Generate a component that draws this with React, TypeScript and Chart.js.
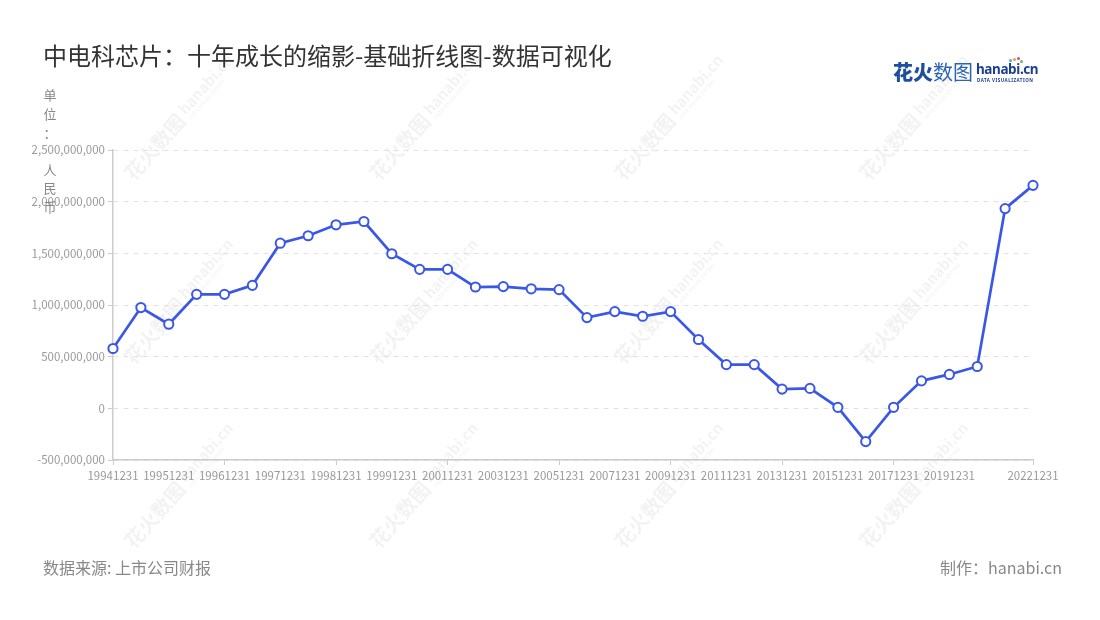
import React, { useEffect, useRef } from 'react';
import { Chart, registerables } from 'chart.js';

Chart.register(...registerables);

const FONT = "'Noto Sans CJK SC', 'Noto Sans', sans-serif";

const titleText = '中电科芯片：十年成长的缩影-基础折线图-数据可视化';
const unitChars = ['单', '位', '：', '人', '民', '币'];
const sourceText = '数据来源: 上市公司财报';
const makerText = '制作：hanabi.cn';

const dates = [
  '19941231', '19950630', '19951231', '19960630', '19961231', '19970630',
  '19971231', '19980630', '19981231', '19990630', '19991231', '20001231',
  '20011231', '20021231', '20031231', '20041231', '20051231', '20061231',
  '20071231', '20081231', '20091231', '20101231', '20111231', '20121231',
  '20131231', '20141231', '20151231', '20161231', '20171231', '20181231',
  '20191231', '20201231', '20211231', '20221231',
];

const values = [
  579000000, 975000000, 814000000, 1103000000, 1103000000, 1190000000,
  1598000000, 1670000000, 1776000000, 1808000000, 1496000000, 1345000000,
  1345000000, 1174000000, 1178000000, 1157000000, 1149000000, 878000000,
  936000000, 891000000, 936000000, 666000000, 423000000, 423000000,
  186000000, 193000000, 10000000, -322000000, 10000000, 266000000,
  328000000, 405000000, 1933000000, 2158000000,
];

const shownTickLabels = [
  '19941231', '19951231', '19961231', '19971231', '19981231', '19991231',
  '20011231', '20031231', '20051231', '20071231', '20091231', '20111231',
  '20131231', '20151231', '20171231', '20191231', '20221231',
];

const yMin = -500000000;
const yMax = 2500000000;
const yStep = 500000000;

const LINE_COLOR = '#3a57e8';

const watermarkPlugin = {
  id: 'watermark',
  beforeDraw(chart: any) {
    const ctx = chart.ctx;
    ctx.save();
    const xs = [134, 379, 624, 869];
    const ys = [182, 366, 550];
    for (const x of xs) {
      for (const y of ys) {
        ctx.save();
        ctx.translate(x, y);
        ctx.rotate(-0.85);
        ctx.fillStyle = 'rgba(0,0,0,0.05)';
        ctx.textBaseline = 'alphabetic';
        ctx.font = `bold 20px ${FONT}`;
        ctx.fillText('花火数图', 0, 0);
        ctx.font = `bold 15px ${FONT}`;
        ctx.fillText('hanabi.cn', 84, -5);
        ctx.font = `bold 5px ${FONT}`;
        ctx.fillText('DATA VISUALIZATION', 85, 2);
        ctx.restore();
      }
    }
    ctx.restore();
  },
};

export default function App() {
  const canvasRef = useRef<HTMLCanvasElement | null>(null);

  useEffect(() => {
    if (!canvasRef.current) return;
    const shown = new Set(shownTickLabels);
    const chart = new Chart(canvasRef.current, {
      type: 'line',
      data: {
        labels: dates,
        datasets: [
          {
            data: values,
            borderColor: LINE_COLOR,
            borderWidth: 2.7,
            backgroundColor: '#ffffff',
            pointBackgroundColor: '#ffffff',
            pointBorderColor: LINE_COLOR,
            pointBorderWidth: 2,
            pointRadius: 4.6,
            tension: 0,
            fill: false,
          },
        ],
      },
      options: {
        responsive: false,
        animation: false,
        layout: { padding: { left: 0, right: 67, top: 150, bottom: 120 } },
        plugins: {
          legend: { display: false },
          tooltip: { enabled: false },
        },
        scales: {
          x: {
            type: 'category',
            offset: false,
            afterFit: (s: any) => {
              s.height = 40;
            },
            grid: {
              drawOnChartArea: false,
              drawTicks: true,
              tickLength: 5,
              color: '#cccccc',
              tickColor: (c: any) =>
                shown.has(dates[c.index]) ? '#cccccc' : 'rgba(0,0,0,0)',
            },
            border: { display: true, color: '#cccccc', width: 1.5 },
            ticks: {
              autoSkip: false,
              maxRotation: 0,
              minRotation: 0,
              padding: 4,
              color: '#999999',
              font: { family: FONT, size: 11.5 },
              callback: (_v: any, i: number) =>
                shown.has(dates[i]) ? dates[i] : null,
            },
          },
          y: {
            min: yMin,
            max: yMax,
            afterFit: (s: any) => {
              s.width = 113;
            },
            grid: {
              color: '#e2e2e2',
              tickColor: '#cccccc',
              tickLength: 5,
              lineWidth: 1,
            },
            border: { display: true, color: '#cccccc', width: 1.5, dash: [5, 5] },
            ticks: {
              stepSize: yStep,
              padding: 3,
              color: '#999999',
              font: { family: FONT, size: 11.5 },
              callback: (v: any) => Number(v).toLocaleString('en-US'),
            },
          },
        },
      },
      plugins: [watermarkPlugin],
    } as any);
    return () => chart.destroy();
  }, []);

  const abs = (extra: React.CSSProperties): React.CSSProperties => ({
    position: 'absolute',
    whiteSpace: 'nowrap',
    fontFamily: FONT,
    ...extra,
  });

  return (
    <div
      style={{
        position: 'fixed',
        left: 0,
        top: 0,
        width: 1100,
        height: 620,
        background: '#ffffff',
        overflow: 'hidden',
        fontFamily: FONT,
      }}
    >
      <canvas
        ref={canvasRef}
        width={1100}
        height={620}
        style={{ position: 'absolute', left: 0, top: 0, width: 1100, height: 620 }}
      />
      <div style={abs({ left: 43, top: 41, fontSize: 24, lineHeight: '28px', color: '#333333' })}>
        {titleText}
      </div>
      {unitChars.map((ch, i) => {
        const centers = [95, 114, 133, 170, 188, 207];
        return (
          <div
            key={i}
            style={abs({
              left: 42,
              width: 16,
              textAlign: 'center',
              top: centers[i] - 8,
              fontSize: 13,
              lineHeight: '16px',
              color: '#888888',
            })}
          >
            {ch}
          </div>
        );
      })}
      <div style={abs({ left: 893, top: 59, height: 26, display: 'flex', alignItems: 'center' })}>
        <span style={{ fontSize: 20, fontWeight: 900, color: '#1d4f9e', lineHeight: '24px' }}>花火</span>
        <span style={{ fontSize: 20, fontWeight: 400, color: '#2c63b5', lineHeight: '24px' }}>数图</span>
        <span style={{ display: 'inline-block', marginLeft: 3, position: 'relative', width: 62, height: 24 }}>
          <span
            style={{
              position: 'absolute',
              left: 0,
              top: 1,
              fontFamily: "'Noto Sans', sans-serif",
              fontSize: 13.5,
              fontWeight: 700,
              color: '#1d3f8f',
              lineHeight: '16px',
              letterSpacing: -0.4,
            }}
          >
            hanabi.cn
          </span>
          <span
            style={{
              position: 'absolute',
              left: 1,
              top: 17,
              fontFamily: "'Noto Sans', sans-serif",
              fontSize: 4.5,
              fontWeight: 700,
              color: '#1d3f8f',
              lineHeight: '6px',
              letterSpacing: 0.5,
            }}
          >
            DATA VISUALIZATION
          </span>
          <span style={{ position: 'absolute', left: 37, top: -2, width: 3, height: 3, borderRadius: 2, background: '#f0a030' }} />
          <span style={{ position: 'absolute', left: 41, top: -3, width: 3, height: 3, borderRadius: 2, background: '#e04a7a' }} />
          <span style={{ position: 'absolute', left: 33, top: -1, width: 3, height: 3, borderRadius: 2, background: '#40b0e0' }} />
          <span style={{ position: 'absolute', left: 44, top: 0, width: 3, height: 3, borderRadius: 2, background: '#60c060' }} />
        </span>
      </div>
      <div style={abs({ left: 43, top: 557, fontSize: 16, lineHeight: '20px', color: '#888888' })}>
        {sourceText}
      </div>
      <div style={abs({ right: 38, top: 557, fontSize: 16, lineHeight: '20px', color: '#888888' })}>
        {makerText}
      </div>
    </div>
  );
}
